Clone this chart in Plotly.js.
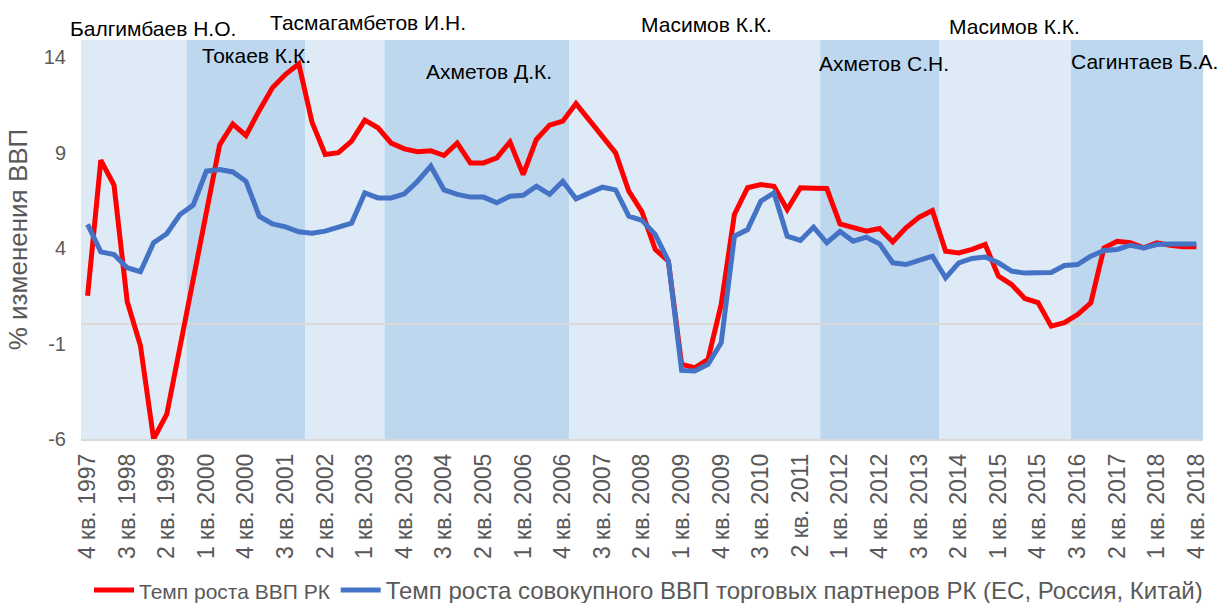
<!DOCTYPE html>
<html>
<head>
<meta charset="utf-8">
<script src="https://cdn.plot.ly/plotly-3.0.1.min.js"></script>
<style>
  html, body { margin: 0; padding: 0; background: #ffffff; }
  #chart { width: 1221px; height: 603px; }
</style>
</head>
<body>
<div id="chart"></div>
<script>
// Quarterly categories
const categories = [
  "4 кв. 1997",
  "1 кв. 1998","2 кв. 1998","3 кв. 1998","4 кв. 1998",
  "1 кв. 1999","2 кв. 1999","3 кв. 1999","4 кв. 1999",
  "1 кв. 2000","2 кв. 2000","3 кв. 2000","4 кв. 2000",
  "1 кв. 2001","2 кв. 2001","3 кв. 2001","4 кв. 2001",
  "1 кв. 2002","2 кв. 2002","3 кв. 2002","4 кв. 2002",
  "1 кв. 2003","2 кв. 2003","3 кв. 2003","4 кв. 2003",
  "1 кв. 2004","2 кв. 2004","3 кв. 2004","4 кв. 2004",
  "1 кв. 2005","2 кв. 2005","3 кв. 2005","4 кв. 2005",
  "1 кв. 2006","2 кв. 2006","3 кв. 2006","4 кв. 2006",
  "1 кв. 2007","2 кв. 2007","3 кв. 2007","4 кв. 2007",
  "1 кв. 2008","2 кв. 2008","3 кв. 2008","4 кв. 2008",
  "1 кв. 2009","2 кв. 2009","3 кв. 2009","4 кв. 2009",
  "1 кв. 2010","2 кв. 2010","3 кв. 2010","4 кв. 2010",
  "1 кв. 2011","2 кв. 2011","3 кв. 2011","4 кв. 2011",
  "1 кв. 2012","2 кв. 2012","3 кв. 2012","4 кв. 2012",
  "1 кв. 2013","2 кв. 2013","3 кв. 2013","4 кв. 2013",
  "1 кв. 2014","2 кв. 2014","3 кв. 2014","4 кв. 2014",
  "1 кв. 2015","2 кв. 2015","3 кв. 2015","4 кв. 2015",
  "1 кв. 2016","2 кв. 2016","3 кв. 2016","4 кв. 2016",
  "1 кв. 2017","2 кв. 2017","3 кв. 2017","4 кв. 2017",
  "1 кв. 2018","2 кв. 2018","3 кв. 2018","4 кв. 2018"
];

// Tick labels shown on the x axis
const tickLabels = [
  "4 кв. 1997","3 кв. 1998","2 кв. 1999","1 кв. 2000","4 кв. 2000",
  "3 кв. 2001","2 кв. 2002","1 кв. 2003","4 кв. 2003","3 кв. 2004",
  "2 кв. 2005","1 кв. 2006","4 кв. 2006","3 кв. 2007","2 кв. 2008",
  "1 кв. 2009","4 кв. 2009","3 кв. 2010","2 кв. 2011","1 кв. 2012",
  "4 кв. 2012","3 кв. 2013","2 кв. 2014","1 кв. 2015","4 кв. 2015",
  "3 кв. 2016","2 кв. 2017","1 кв. 2018","4 кв. 2018"
];

// Темп роста ВВП РК, %
const gdpKZ = [
  1.5,
  8.6, 7.3, 1.2, -1.1,
  -6.0, -4.7, -1.2, 2.4,
  5.9, 9.4, 10.5, 9.9,
  11.2, 12.4, 13.1, 13.65,
  10.6, 8.9, 9.0, 9.6,
  10.7, 10.3, 9.5, 9.2,
  9.05, 9.1, 8.85, 9.5,
  8.46, 8.46, 8.73, 9.56,
  7.85, 9.69, 10.44, 10.65,
  11.57, 10.73, 9.86, 8.99,
  6.98, 5.9, 3.93, 3.32,
  -2.09, -2.27, -1.83, 1.05,
  5.76, 7.16, 7.33, 7.24,
  6.02, 7.16, 7.14, 7.12,
  5.26, 5.06, 4.89, 5.03,
  4.33, 5.06, 5.62, 5.97,
  3.84, 3.75, 3.93, 4.19,
  2.53, 2.09, 1.36, 1.15,
  -0.09, 0.09, 0.52, 1.13,
  4.01, 4.36, 4.28, 4.01,
  4.28, 4.15, 4.07, 4.07
];

// Темп роста совокупного ВВП торговых партнеров РК (ЕС, Россия, Китай), %
const gdpPartners = [
  5.24,
  3.80, 3.66, 2.97, 2.76,
  4.28, 4.75, 5.76, 6.25,
  8.03, 8.12, 7.99, 7.50,
  5.67, 5.27, 5.11, 4.85,
  4.78, 4.89, 5.10, 5.31,
  6.89, 6.63, 6.63, 6.84,
  7.50, 8.29, 7.05, 6.81,
  6.67, 6.67, 6.37, 6.72,
  6.77, 7.24, 6.81, 7.50,
  6.58, 6.89, 7.19, 7.05,
  5.67, 5.45, 4.71, 3.32,
  -2.41, -2.44, -2.09, -0.96,
  4.62, 4.97, 6.46, 6.89,
  4.62, 4.40, 5.10, 4.28,
  4.87, 4.36, 4.57, 4.22,
  3.23, 3.14, 3.35, 3.58,
  2.44, 3.23, 3.46, 3.53,
  3.23, 2.79, 2.69, 2.69,
  2.72, 3.09, 3.14, 3.58,
  3.87, 3.93, 4.15, 4.01,
  4.19, 4.22, 4.22, 4.22
];

// Premier ministers and the first quarter of each period
const premiers = [
  "Балгимбаев Н.О.", "Токаев К.К.", "Тасмагамбетов И.Н.", "Ахметов Д.К.",
  "Масимов К.К.", "Ахметов С.Н.", "Масимов К.К.", "Сагинтаев Б.А."
];
const periodStart = [
  "4 кв. 1997", "4 кв. 1999", "1 кв. 2002", "3 кв. 2003",
  "1 кв. 2007", "4 кв. 2011", "1 кв. 2014", "3 кв. 2016"
];

const yTicks = [-6, -1, 4, 9, 14];

// ---- styling / layout ----
const FONT = "Liberation Sans, Arial, sans-serif";
const bandColors = ["#DEEAF6", "#BDD7EE"];
const labelPos = [
  {x: 0.064, y: 1.030},
  {x: 0.156, y: 0.960},
  {x: 0.2555, y: 1.045},
  {x: 0.3634, y: 0.922},
  {x: 0.5577, y: 1.038},
  {x: 0.7155, y: 0.942},
  {x: 0.8322, y: 1.035},
  {x: 0.9481, y: 0.947}
];

const shapes = periodStart.map((s, k) => {
  const i0 = categories.indexOf(s);
  const i1 = k + 1 < periodStart.length ? categories.indexOf(periodStart[k + 1]) : categories.length;
  return {
    type: "rect", xref: "x", yref: "paper",
    x0: i0 - 0.5, x1: i1 - 0.5, y0: 0, y1: 1,
    fillcolor: bandColors[k % 2], line: {width: 0}, layer: "below"
  };
});

const annotations = premiers.map((name, k) => ({
  text: name, xref: "paper", yref: "paper",
  x: labelPos[k].x, y: labelPos[k].y,
  xanchor: "center", yanchor: "middle", showarrow: false,
  font: {family: FONT, size: 21, color: "#000000"}
}));

const traces = [
  {
    type: "scatter", mode: "lines", x: categories, y: gdpKZ,
    name: '<span style="font-size:21px">Темп роста ВВП РК</span>',
    line: {color: "#FF0000", width: 5}
  },
  {
    type: "scatter", mode: "lines", x: categories, y: gdpPartners,
    name: "Темп роста совокупного ВВП торговых партнеров РК (ЕС, Россия, Китай)",
    line: {color: "#4472C4", width: 5}
  }
];

const layout = {
  width: 1221, height: 603,
  margin: {l: 81, r: 18, t: 40, b: 164, autoexpand: false},
  paper_bgcolor: "#ffffff", plot_bgcolor: "#ffffff",
  font: {family: FONT, color: "#595959"},
  showlegend: true,
  legend: {
    orientation: "h", xref: "container", yref: "container",
    x: 0.0729, xanchor: "left", y: 0.021, yanchor: "middle",
    font: {family: FONT, size: 24, color: "#595959"},
    bgcolor: "rgba(0,0,0,0)", tracegroupgap: 0, itemwidth: 40
  },
  xaxis: {
    type: "category", automargin: false,
    categoryorder: "array", categoryarray: categories,
    range: [-0.5, categories.length - 0.5],
    tickmode: "array", tickvals: tickLabels, ticktext: tickLabels,
    tickangle: -90, tickfont: {family: FONT, size: 23, color: "#595959"},
    showgrid: false, zeroline: false,
    showline: true, linecolor: "#D9D9D9", linewidth: 1.5,
    ticks: "", ticklabelstandoff: 4, fixedrange: true
  },
  yaxis: {
    range: [-6, 14.9], automargin: false,
    tickmode: "array", tickvals: yTicks, ticktext: yTicks.map(String),
    tickfont: {family: FONT, size: 20, color: "#595959"},
    showgrid: false, ticklabelstandoff: 14,
    zeroline: true, zerolinecolor: "#D9D9D9", zerolinewidth: 2,
    showline: false, ticks: "",
    title: {text: "% изменения ВВП", font: {family: FONT, size: 26, color: "#595959"}, standoff: 8},
    fixedrange: true
  },
  shapes: shapes,
  annotations: annotations
};

Plotly.newPlot("chart", traces, layout, {displayModeBar: false, staticPlot: true});
</script>
</body>
</html>
